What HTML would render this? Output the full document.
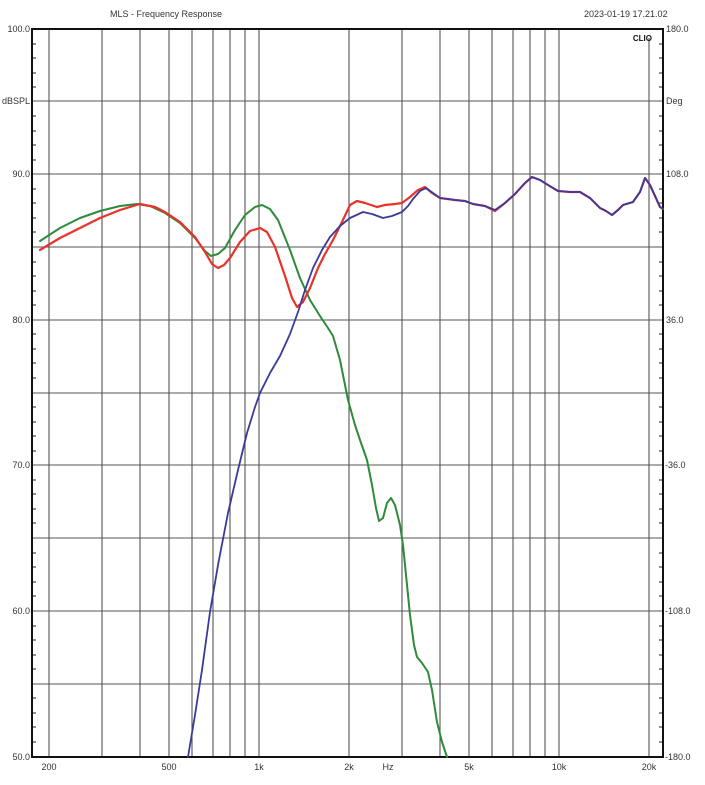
<!DOCTYPE html>
<html><head><meta charset="utf-8"><style>
html,body{margin:0;padding:0;background:#fff;}
svg{display:block;font-family:"Liberation Sans",Arial,sans-serif;}
</style></head><body>
<svg width="705" height="785" viewBox="0 0 705 785" xmlns="http://www.w3.org/2000/svg">
<rect width="705" height="785" fill="#fff"/>
<text x="110" y="17" font-size="9" fill="#333">MLS - Frequency Response</text>
<text x="584" y="17" font-size="9" fill="#333">2023-01-19 17.21.02</text>
<g stroke="#555" stroke-width="1.1">
<line x1="32" y1="101" x2="663" y2="101"/><line x1="32" y1="174" x2="663" y2="174"/>
<line x1="32" y1="247" x2="663" y2="247"/><line x1="32" y1="320" x2="663" y2="320"/>
<line x1="32" y1="393" x2="663" y2="393"/><line x1="32" y1="465" x2="663" y2="465"/>
<line x1="32" y1="538" x2="663" y2="538"/><line x1="32" y1="611" x2="663" y2="611"/>
<line x1="32" y1="684" x2="663" y2="684"/>
<line x1="49" y1="29" x2="49" y2="757"/><line x1="102" y1="29" x2="102" y2="757"/>
<line x1="140" y1="29" x2="140" y2="757"/><line x1="169" y1="29" x2="169" y2="757"/>
<line x1="192" y1="29" x2="192" y2="757"/><line x1="213" y1="29" x2="213" y2="757"/>
<line x1="230" y1="29" x2="230" y2="757"/><line x1="245" y1="29" x2="245" y2="757"/>
<line x1="259" y1="29" x2="259" y2="757"/><line x1="349" y1="29" x2="349" y2="757"/>
<line x1="402" y1="29" x2="402" y2="757"/><line x1="440" y1="29" x2="440" y2="757"/>
<line x1="469" y1="29" x2="469" y2="757"/><line x1="492" y1="29" x2="492" y2="757"/>
<line x1="513" y1="29" x2="513" y2="757"/><line x1="530" y1="29" x2="530" y2="757"/>
<line x1="545" y1="29" x2="545" y2="757"/><line x1="559" y1="29" x2="559" y2="757"/>
<line x1="649" y1="38" x2="649" y2="757"/>
</g>
<g stroke="#222" stroke-width="1">
<path d="M32 44h4M32 58h4M32 73h4M32 87h4M32 116h4M32 131h4M32 145h4M32 160h4M32 189h4M32 203h4M32 218h4M32 232h4M32 262h4M32 276h4M32 291h4M32 305h4M32 334h4M32 349h4M32 363h4M32 378h4M32 407h4M32 422h4M32 436h4M32 451h4M32 480h4M32 494h4M32 509h4M32 523h4M32 553h4M32 567h4M32 582h4M32 596h4M32 626h4M32 640h4M32 655h4M32 669h4M32 698h4M32 713h4M32 727h4M32 742h4"/>
<path d="M663 44h-4M663 58h-4M663 73h-4M663 87h-4M663 116h-4M663 131h-4M663 145h-4M663 160h-4M663 189h-4M663 203h-4M663 218h-4M663 232h-4M663 262h-4M663 276h-4M663 291h-4M663 305h-4M663 334h-4M663 349h-4M663 363h-4M663 378h-4M663 407h-4M663 422h-4M663 436h-4M663 451h-4M663 480h-4M663 494h-4M663 509h-4M663 523h-4M663 553h-4M663 567h-4M663 582h-4M663 596h-4M663 626h-4M663 640h-4M663 655h-4M663 669h-4M663 698h-4M663 713h-4M663 727h-4M663 742h-4"/>
</g>
<rect x="32" y="29" width="631" height="728" fill="none" stroke="#111" stroke-width="2"/>
<text x="652" y="41" font-size="8" font-weight="bold" text-anchor="end" fill="#111">CLIO</text>
<g font-size="9" fill="#333" text-anchor="end">
<text x="30" y="32">100.0</text><text x="30" y="104">dBSPL</text>
<text x="30" y="177">90.0</text><text x="30" y="323">80.0</text>
<text x="30" y="468">70.0</text><text x="30" y="614">60.0</text><text x="30" y="760">50.0</text>
</g>
<g font-size="9" fill="#333">
<text x="666" y="32">180.0</text><text x="666" y="104">Deg</text>
<text x="666" y="177">108.0</text><text x="666" y="323">36.0</text>
<text x="665" y="468">-36.0</text><text x="665" y="614">-108.0</text><text x="665" y="760">-180.0</text>
</g>
<g font-size="9" fill="#333" text-anchor="middle">
<text x="49" y="770">200</text><text x="169" y="770">500</text><text x="259" y="770">1k</text>
<text x="349" y="770">2k</text><text x="388" y="770">Hz</text><text x="469" y="770">5k</text>
<text x="559" y="770">10k</text><text x="649" y="770">20k</text>
</g>
<g fill="none" stroke-width="2" stroke-linejoin="round" stroke-linecap="round">
<polyline stroke="#2f8a3a" points="40,241 60,228 80,218 100,211 120,206 137,204 150,206 165,213 180,223 195,238 205,251 211,256 218,254 225,248 235,230 245,215 255,207 262,205 270,209 278,220 290,250 300,278 310,300 320,316 328,328 333,336 340,360 348,400 355,425 360,440 367,460 372,485 376,508 379,521 383,518 387,503 391,498 395,505 400,525 403,545 406,575 410,615 414,645 417,657 422,663 428,672 432,690 437,722 442,742 447,757"/>
<polyline stroke="#e8322a" stroke-width="2.2" points="40,250 60,238 80,228 100,218 120,210 140,204 155,207 165,212 180,222 195,237 205,252 212,264 218,268 224,265 230,258 240,242 250,231 260,228 267,232 275,247 285,276 292,298 297,307 303,302 310,288 318,268 325,254 333,240 342,222 350,205 357,201 365,203 377,207 385,205 395,204 402,203 410,197 418,190 425,187 432,193 440,198 455,200 465,201 473,204 485,206 495,211 505,203 515,194 525,183 532,177 540,180 548,185 558,191 570,192 580,192 590,198 600,208 606,211 612,215 618,210 623,205 633,202 640,192 645,178 650,185 655,196 660,207 663,209"/>
<polyline stroke="#3a3a9c" stroke-width="1.8" points="188,757 195,715 202,670 210,612 218,565 228,513 238,470 247,433 255,407 260,393 270,373 280,356 290,334 298,312 305,290 313,268 322,250 330,237 340,226 350,218 363,212 372,214 383,218 392,216 402,212 408,206 413,199 420,191 426,188 433,193 440,198 455,200 465,201 473,204 485,206 495,210 505,203 515,194 525,183 532,177 540,180 548,185 558,191 570,192 580,192 590,198 600,208 606,211 612,215 618,210 623,205 633,202 640,192 645,178 650,185 655,196 660,207 663,209"/>
</g>
</svg>
</body></html>
